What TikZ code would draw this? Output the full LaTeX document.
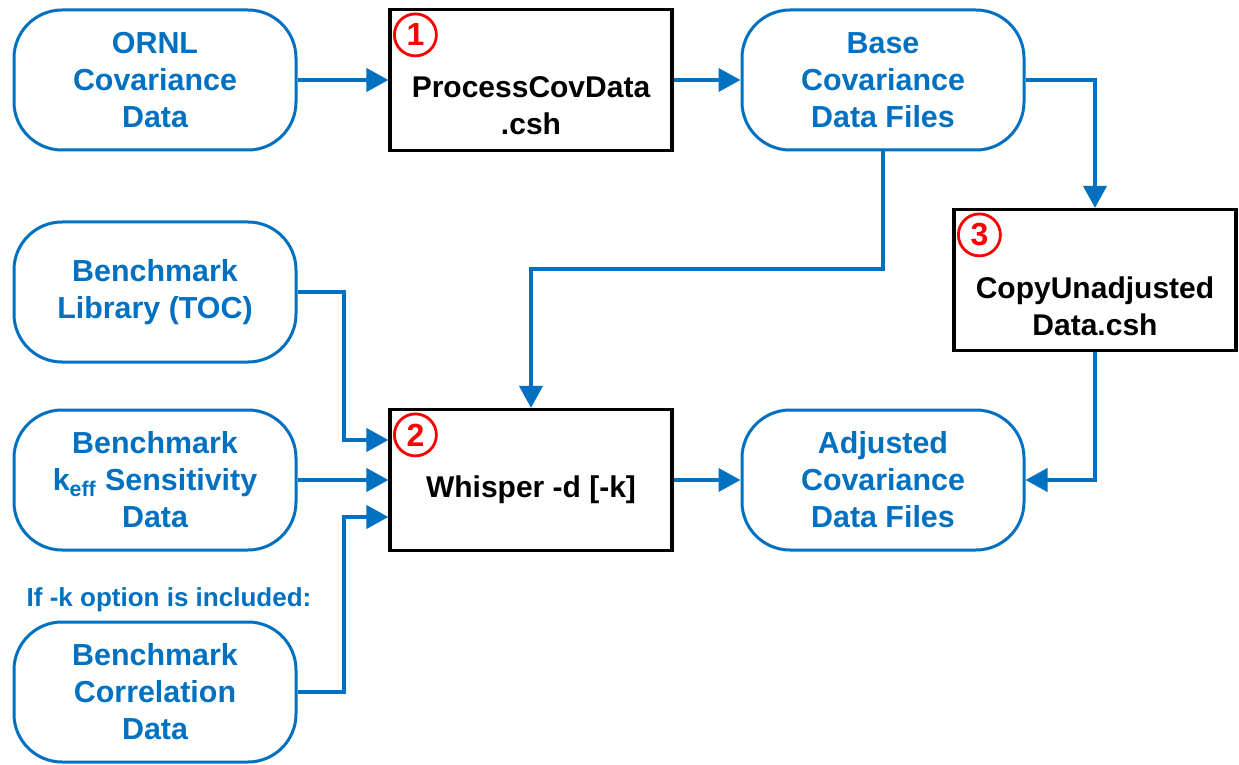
\documentclass[tikz,border=0pt]{standalone}
\usepackage{fontspec}
\setmainfont{Liberation Sans}
\usetikzlibrary{arrows.meta,positioning}
\definecolor{flowblue}{RGB}{0,112,192}
\definecolor{numred}{RGB}{255,0,0}

\begin{document}
\begin{tikzpicture}[x=0.5pt,y=-0.5pt,
  data/.style={draw=flowblue,line width=1.5pt,rounded corners=24pt,fill=white,
    minimum width=141pt,minimum height=70pt,align=center,text=flowblue,
    font=\fontsize{15.2}{18.5}\selectfont\bfseries},
  script/.style={draw=black,line width=1.6pt,fill=white,minimum width=141pt,minimum height=70.5pt},
  scripttext/.style={align=center,font=\fontsize{15}{18.5}\selectfont\bfseries},
  num/.style={circle,draw=numred,line width=1.4pt,minimum size=21pt,inner sep=0pt,
    text=numred,font=\fontsize{16}{16}\selectfont\bfseries},
  flow/.style={draw=flowblue,line width=2pt,-{Triangle[length=11pt,width=11.5pt]}}]
  \useasboundingbox (0,0) rectangle (1239,765);
  % input data
  \node[data] (ornl) at (155,80) {ORNL\\Covariance\\Data};
  \node[data] (lib) at (155,292) {Benchmark\\Library (TOC)};
  \node[data] (keff) at (155,480) {Benchmark\\k\textsubscript{eff} Sensitivity\\Data};
  \node[text=flowblue,font=\fontsize{13}{14}\selectfont\bfseries] (cond) at (169,600) {If -k option is included:};
  \node[data] (corr) at (155,692) {Benchmark\\Correlation\\Data};
  % scripts
  \node[script] (proc) at (531,80) {};
  \node[scripttext] (proctxt) at (531,106) {ProcessCovData\\.csh};
  \node[num] (n1) at ([xshift=13.5pt,yshift=-13.5pt]proc.north west) {1};
  \node[script] (copy) at (1095,280) {};
  \node[scripttext] (copytxt) at (1095,306) {CopyUnadjusted\\Data.csh};
  \node[num] (n3) at ([xshift=13.5pt,yshift=-13.5pt]copy.north west) {3};
  \node[script] (whisp) at (531,480) {};
  \node[scripttext] (whisptxt) at (531,490) {Whisper -d [-k]};
  \node[num] (n2) at ([xshift=13.5pt,yshift=-13.5pt]whisp.north west) {2};
  % output data
  \node[data] (base) at (883,80) {Base\\Covariance\\Data Files};
  \node[data] (adj) at (883,480) {Adjusted\\Covariance\\Data Files};
  % connectors
  \draw[flow] (ornl) -- (proc);
  \draw[flow] (proc) -- (base);
  \draw[flow] (base.east) -| (copy.north);
  \draw[flow] (base.south) -- ++(0,118) -| (whisp.north);
  \draw[flow] (lib.east) -- ++(46,0) |- ([yshift=20pt]whisp.west);
  \draw[flow] (keff) -- (whisp);
  \draw[flow] (corr.east) -- ++(46,0) |- ([yshift=-18.5pt]whisp.west);
  \draw[flow] (whisp) -- (adj);
  \draw[flow] (copy.south) |- (adj.east);
\end{tikzpicture}
\end{document}
